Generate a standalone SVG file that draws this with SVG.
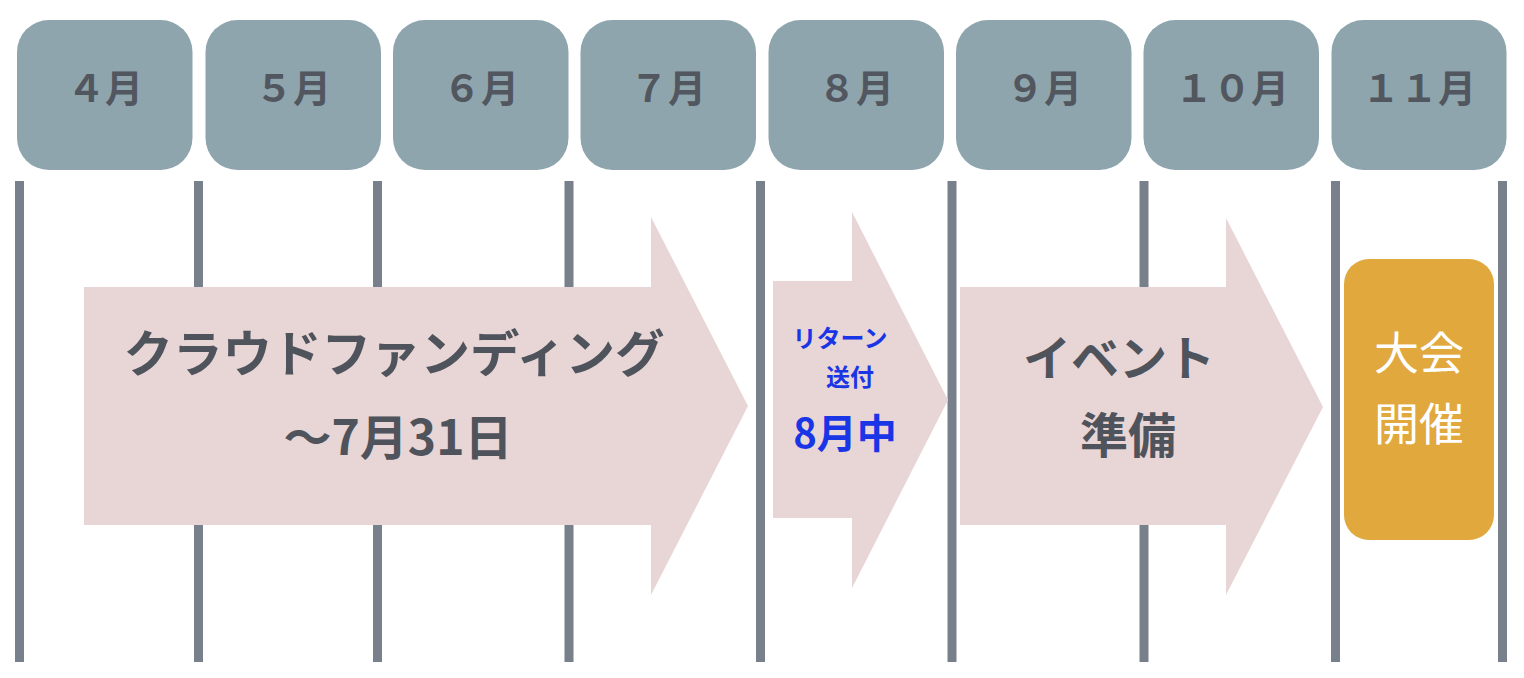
<svg xmlns="http://www.w3.org/2000/svg" width="1524" height="678" viewBox="0 0 1524 678">
<style>
.hdr{fill:#8ea5ae}
.hdrt{font-family:"Noto Sans CJK JP","Noto Sans",sans-serif;font-weight:700;font-size:38px;fill:#52565e;text-anchor:middle}
.vl{stroke:#78808c;stroke-width:9}
.arr{fill:#e8d5d5}
.dt{font-family:"Noto Sans CJK JP","Noto Sans",sans-serif;font-weight:700;font-size:48px;fill:#4f535b;text-anchor:middle}
.big{font-size:49.5px}
.bt{font-family:"Noto Sans CJK JP","Noto Sans",sans-serif;font-weight:700;fill:#1a35e6;text-anchor:middle}
.wt{font-family:"Noto Sans CJK JP","Noto Sans",sans-serif;font-weight:400;font-size:45px;fill:#ffffff;text-anchor:middle}
</style>
<rect width="1524" height="678" fill="#ffffff"/>
<g id="lines">
<line class="vl" x1="19.5" y1="181" x2="19.5" y2="662"/>
<line class="vl" x1="198.5" y1="181" x2="198.5" y2="662"/>
<line class="vl" x1="377.5" y1="181" x2="377.5" y2="662"/>
<line class="vl" x1="569" y1="181" x2="569" y2="662"/>
<line class="vl" x1="760.5" y1="181" x2="760.5" y2="662"/>
<line class="vl" x1="952" y1="181" x2="952" y2="662"/>
<line class="vl" x1="1144" y1="181" x2="1144" y2="662"/>
<line class="vl" x1="1335.5" y1="181" x2="1335.5" y2="662"/>
<line class="vl" x1="1502.5" y1="181" x2="1502.5" y2="662"/>
</g>
<g id="m4"><rect class="hdr" x="17" y="20" width="175.5" height="150" rx="32"/><text class="hdrt" x="105" y="102">４月</text></g>
<g id="m5"><rect class="hdr" x="205.5" y="20" width="175.5" height="150" rx="32"/><text class="hdrt" x="293" y="102">５月</text></g>
<g id="m6"><rect class="hdr" x="393" y="20" width="175.5" height="150" rx="32"/><text class="hdrt" x="481" y="102">６月</text></g>
<g id="m7"><rect class="hdr" x="580.5" y="20" width="175.5" height="150" rx="32"/><text class="hdrt" x="668" y="102">７月</text></g>
<g id="m8"><rect class="hdr" x="768.5" y="20" width="175.5" height="150" rx="32"/><text class="hdrt" x="856" y="102">８月</text></g>
<g id="m9"><rect class="hdr" x="956" y="20" width="175.5" height="150" rx="32"/><text class="hdrt" x="1044" y="102">９月</text></g>
<g id="m10"><rect class="hdr" x="1143.5" y="20" width="175.5" height="150" rx="32"/><text class="hdrt" x="1232" y="102">１０月</text></g>
<g id="m11"><rect class="hdr" x="1331.5" y="20" width="175" height="150" rx="32"/><text class="hdrt" x="1419" y="102">１１月</text></g>
<g id="crowdfunding">
<polygon class="arr" points="84,287 651,287 651,217 748,406 651,595 651,525 84,525"/>
<text class="dt big" x="394" y="372">クラウドファンディング</text>
<text class="dt" x="398" y="455">～7月31日</text>
</g>
<g id="return">
<polygon class="arr" points="773,281 852,281 852,212 948,400 852,588 852,518 773,518"/>
<text class="bt" x="840" y="347" font-size="24">リターン</text>
<text class="bt" x="850" y="386" font-size="24">送付</text>
<text class="bt" x="845" y="448" font-size="40">8月中</text>
</g>
<g id="event">
<polygon class="arr" points="960,287 1226,287 1226,218 1323,407 1226,595 1226,525 960,525"/>
<text class="dt" x="1119" y="376">イベント</text>
<text class="dt" x="1128" y="453">準備</text>
</g>
<g id="taikai">
<rect x="1344" y="259" width="150" height="281" rx="25" fill="#e1a83e"/>
<text class="wt" x="1419" y="370">大会</text>
<text class="wt" x="1419" y="441">開催</text>
</g>
</svg>
